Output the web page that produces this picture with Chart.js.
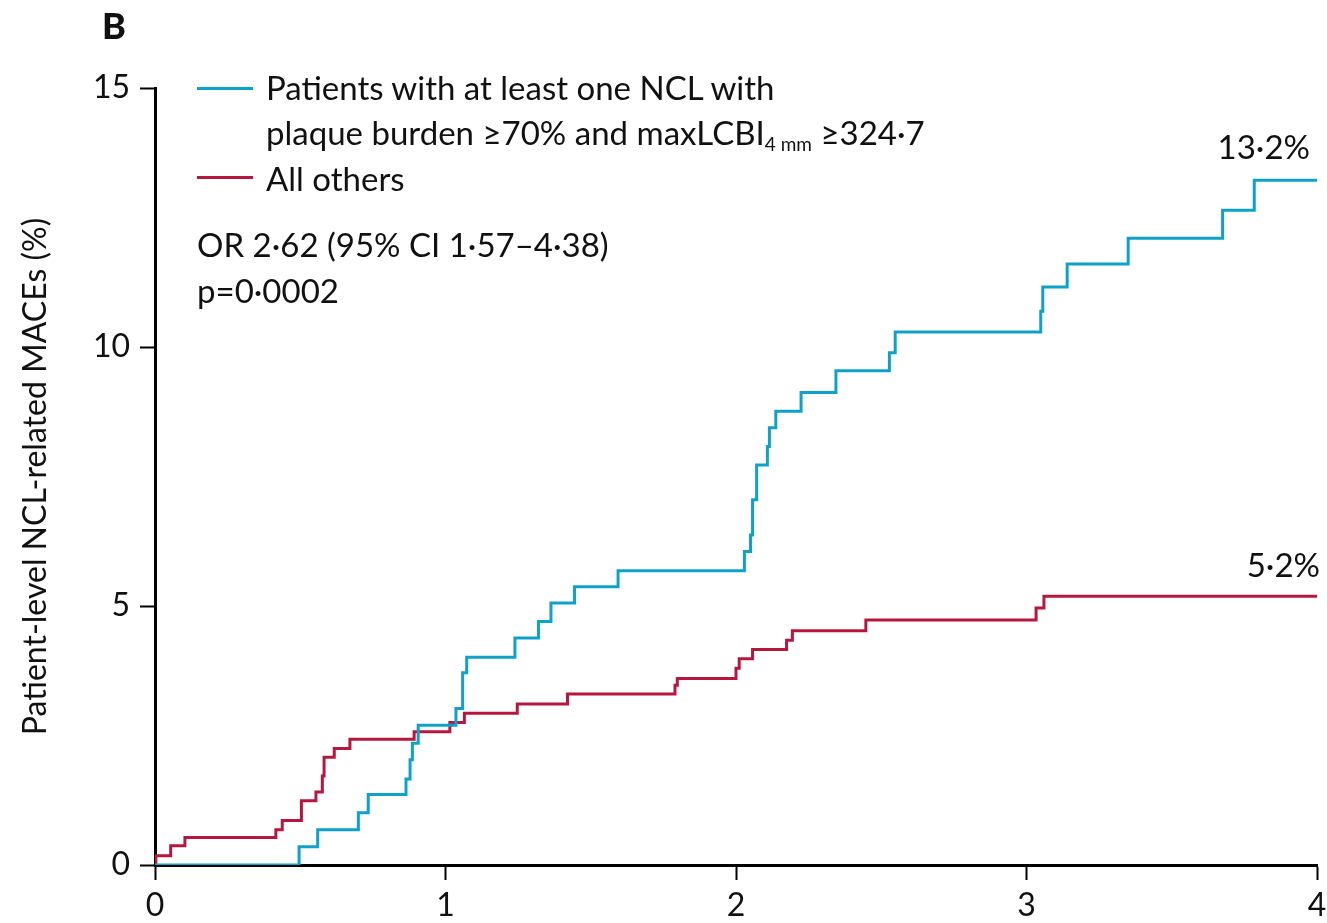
<!DOCTYPE html>
<html>
<head>
<meta charset="utf-8">
<script src="https://cdn.jsdelivr.net/npm/chart.js@4/dist/chart.umd.min.js"></script>
<style>
  body { margin: 0; background: #fff; }
  #wrap { position: relative; width: 1327px; height: 923px; font-family: Lato, sans-serif; color: #111; }
  #wrap canvas { position: absolute; left: 0; top: 0; }
  .txt { position: absolute; white-space: nowrap; font-size: 33px; line-height: 38px; }
  .swatch { position: absolute; height: 3px; width: 56px; }
  sub { font-size: 19px; vertical-align: -6px; line-height: 0; }
</style>
</head>
<body>
<div id="wrap">
  <canvas id="kmChart" width="1327" height="923"></canvas>
  <div class="txt" style="left:102px; top:6px; font-weight:900; font-size:36px;">B</div>
  <div class="swatch" style="left:197px; top:87px; background:#0fa2c8;"></div>
  <div class="txt" style="left:266px; top:68px;">Patients with at least one NCL with</div>
  <div class="txt" style="left:266px; top:113px;">plaque burden ≥70% and maxLCBI<sub>4 mm</sub> ≥324·7</div>
  <div class="swatch" style="left:197px; top:176px; background:#b5173f;"></div>
  <div class="txt" style="left:266px; top:159px;">All others</div>
  <div class="txt" style="left:197px; top:225px;">OR 2·62 (95% CI 1·57–4·38)</div>
  <div class="txt" style="left:197px; top:271px;">p=0·0002</div>
  <div class="txt" style="right:17px; top:127px;">13·2%</div>
  <div class="txt" style="right:7px; top:545px;">5·2%</div>
</div>
<script>
// follow-up time (years) and cumulative event rate (%)
var blueTimes = [0, 0.496, 0.56, 0.70, 0.734, 0.864, 0.878, 0.886, 0.906, 1.036, 1.059, 1.073, 1.239, 1.32, 1.363, 1.444, 1.594, 2.029, 2.05, 2.057, 2.071, 2.108, 2.115, 2.137, 2.224, 2.344, 2.528, 2.548, 3.049, 3.056, 3.14, 3.35, 3.675, 3.784, 4.0];
var blueRisk = [0, 0.35, 0.68, 1.01, 1.36, 1.66, 2.03, 2.35, 2.70, 3.02, 3.71, 4.01, 4.38, 4.70, 5.06, 5.37, 5.68, 6.05, 6.37, 7.05, 7.72, 8.08, 8.44, 8.76, 9.12, 9.54, 9.89, 10.29, 10.69, 11.16, 11.60, 12.10, 12.64, 13.22, 13.22];

var redTimes = [0, 0.003, 0.054, 0.103, 0.416, 0.438, 0.504, 0.554, 0.576, 0.582, 0.617, 0.671, 0.892, 1.015, 1.065, 1.247, 1.42, 1.79, 1.798, 2.0, 2.011, 2.057, 2.174, 2.194, 2.447, 3.033, 3.06, 4.0];
var redRisk = [0, 0.18, 0.37, 0.53, 0.68, 0.86, 1.24, 1.41, 1.72, 2.08, 2.25, 2.43, 2.57, 2.75, 2.93, 3.11, 3.30, 3.47, 3.60, 3.80, 3.98, 4.16, 4.34, 4.52, 4.73, 4.96, 5.19, 5.19];

var xTicks = [0, 1, 2, 3, 4];
var yTicks = [0, 5, 10, 15];

function toPoints(xs, ys) {
	return xs.map(function (x, i) { return { x: x, y: ys[i] }; });
}

var ctx = document.getElementById('kmChart').getContext('2d');
var tickFont = { family: 'Lato, sans-serif', size: 32 };

new Chart(ctx, {
	type: 'line',
	data: {
		datasets: [
			{
				label: 'NCL with PB ≥70% and maxLCBI ≥324·7',
				data: toPoints(blueTimes, blueRisk),
				borderColor: '#0fa2c8',
				borderWidth: 3,
				stepped: true,
				pointRadius: 0,
				fill: false
			},
			{
				label: 'All others',
				data: toPoints(redTimes, redRisk),
				borderColor: '#b5173f',
				borderWidth: 3,
				stepped: true,
				pointRadius: 0,
				fill: false
			}
		]
	},
	options: {
		responsive: false,
		animation: false,
		layout: { padding: { top: 88, right: 10, left: 0, bottom: 0 } },
		plugins: { legend: { display: false }, tooltip: { enabled: false } },
		scales: {
			x: {
				type: 'linear',
				min: 0,
				max: 4,
				afterBuildTicks: function (s) { s.ticks = xTicks.map(function (v) { return { value: v }; }); },
				afterFit: function (s) { s.height = 58; s.paddingLeft = 0; s.paddingRight = 0; },
				border: { color: '#000', width: 3 },
				grid: { drawOnChartArea: false, drawTicks: true, tickLength: 15, tickColor: '#000', tickWidth: 2 },
				ticks: { color: '#111', font: tickFont, padding: 6, maxRotation: 0 }
			},
			y: {
				min: 0,
				max: 15,
				afterBuildTicks: function (s) { s.ticks = yTicks.map(function (v) { return { value: v }; }); },
				afterFit: function (s) { s.width = 155; },
				border: { color: '#000', width: 3 },
				grid: { drawOnChartArea: false, drawTicks: true, tickLength: 15, tickColor: '#000', tickWidth: 2 },
				ticks: { color: '#111', font: tickFont, padding: 10 },
				title: {
					display: true,
					text: 'Patient-level NCL-related MACEs (%)',
					color: '#111',
					font: { family: 'Lato, sans-serif', size: 32 },
					padding: { top: 16, bottom: 0 }
				}
			}
		}
	}
});
</script>
</body>
</html>
